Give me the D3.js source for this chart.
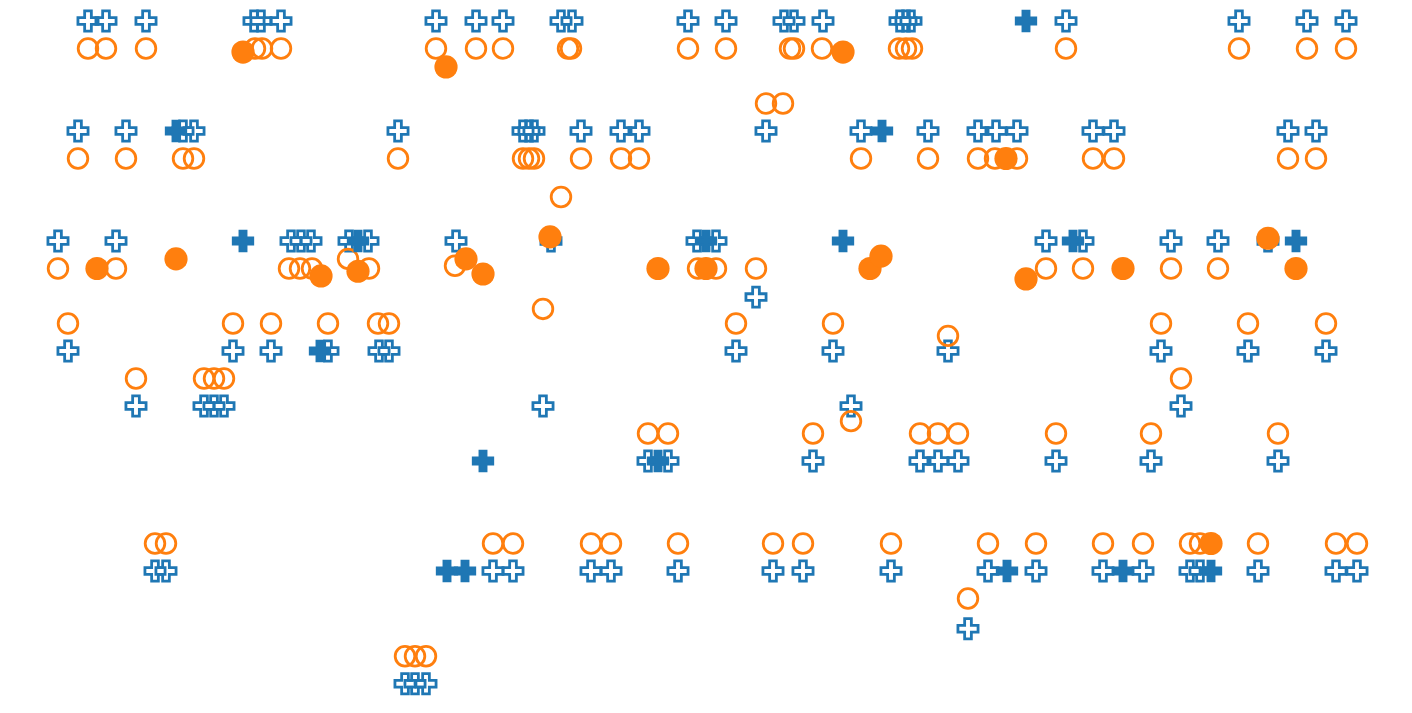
<!DOCTYPE html>
<html>
<head>
<meta charset="utf-8">
<script src="https://cdn.jsdelivr.net/npm/d3@7"></script>
<style>
  html, body { margin: 0; padding: 0; background: #fff; }
  svg { display: block; }
</style>
</head>
<body>
<svg id="chart"></svg>
<script>
// x position, vertical level
const openCrosses = [
  [88, 0], [106, 0], [146, 0], [254, 0], [261, 0], [281, 0], [436, 0], [476, 0], [503, 0],
  [561, 0], [572, 0], [688, 0], [726, 0], [784, 0], [794, 0], [823, 0], [900, 0], [906, 0],
  [911, 0], [1066, 0], [1239, 0], [1307, 0], [1346, 0],
  [78, 4], [126, 4], [183, 4], [194, 4], [398, 4], [523, 4], [529, 4], [534, 4], [581, 4],
  [621, 4], [639, 4], [766, 4], [861, 4], [928, 4], [978, 4], [996, 4], [1017, 4],
  [1093, 4], [1114, 4], [1288, 4], [1316, 4],
  [58, 8], [116, 8], [291, 8], [301, 8], [311, 8], [349, 8], [368, 8], [456, 8], [551, 8],
  [697, 8], [716, 8], [1046, 8], [1083, 8], [1171, 8], [1218, 8], [1268, 8], [756, 10.04],
  [68, 12], [233, 12], [271, 12], [328, 12], [379, 12], [389, 12], [736, 12], [833, 12],
  [948, 12], [1161, 12], [1248, 12], [1326, 12],
  [136, 14], [204, 14], [214, 14], [224, 14], [543, 14], [851, 14], [1181, 14],
  [648, 16], [668, 16], [813, 16], [920, 16], [938, 16], [958, 16], [1056, 16], [1151, 16], [1278, 16],
  [155, 20], [166, 20], [493, 20], [513, 20], [591, 20], [611, 20], [678, 20], [773, 20],
  [803, 20], [891, 20], [988, 20], [1036, 20], [1103, 20], [1143, 20], [1190, 20], [1200, 20],
  [1258, 20], [1336, 20], [1357, 20],
  [968, 22.1],
  [405, 24.1], [415, 24.1], [426, 24.1]
];

const filledCrosses = [
  [1026, 0], [176, 4], [882, 4],
  [243, 8], [358, 8], [706, 8], [843, 8], [1073, 8], [1296, 8],
  [320, 12], [483, 16], [658, 16],
  [447, 20], [465, 20], [1007, 20], [1123, 20], [1211, 20]
];

const openCircles = [
  [88, 1], [106, 1], [146, 1], [255, 1], [262, 1], [281, 1], [436, 1], [476, 1], [503, 1],
  [568, 1], [571, 1], [688, 1], [726, 1], [790, 1], [794, 1], [822, 1], [899, 1], [906, 1],
  [912, 1], [1066, 1], [1239, 1], [1307, 1], [1346, 1],
  [766, 3], [783, 3],
  [78, 5], [126, 5], [183, 5], [194, 5], [398, 5], [523, 5], [529, 5], [534, 5], [581, 5],
  [621, 5], [639, 5], [861, 5], [928, 5], [978, 5], [995, 5], [1017, 5], [1093, 5],
  [1114, 5], [1288, 5], [1316, 5],
  [561, 6.4],
  [58, 9], [116, 9], [289, 9], [300, 9], [312, 9], [369, 9], [698, 9], [716, 9], [756, 9],
  [1046, 9], [1083, 9], [1171, 9], [1218, 9], [348, 8.65], [455, 8.9], [543, 10.47],
  [68, 11], [233, 11], [271, 11], [328, 11], [378, 11], [389, 11], [736, 11], [833, 11],
  [1161, 11], [1248, 11], [1326, 11], [948, 11.45],
  [136, 13], [204, 13], [214, 13], [224, 13], [1181, 13], [851, 14.55],
  [648, 15], [668, 15], [813, 15], [920, 15], [938, 15], [958, 15], [1056, 15], [1151, 15], [1278, 15],
  [155, 19], [166, 19], [493, 19], [513, 19], [591, 19], [611, 19], [678, 19], [773, 19],
  [803, 19], [891, 19], [988, 19], [1036, 19], [1103, 19], [1143, 19], [1190, 19], [1200, 19],
  [1258, 19], [1336, 19], [1357, 19],
  [968, 21],
  [405, 23.1], [415, 23.1], [426, 23.1]
];

const filledCircles = [
  [243, 1.13], [446, 1.67], [843, 1.13],
  [1006, 5], [550, 7.85],
  [97, 9], [176, 8.65], [321, 9.27], [358, 9.1], [466, 8.65], [483, 9.2], [658, 9],
  [706, 9], [870, 9], [881, 8.55], [1026, 9.38], [1123, 9], [1268, 7.9], [1296, 9],
  [1211, 19]
];

const width = 1412;
const height = 713;
const blue = '#1f77b4';
const orange = '#ff7f0e';

const svg = d3.select('#chart').attr('width', width).attr('height', height);

const x = d3.scaleLinear().domain([0, 1412]).range([0, width]);
const y = d3.scaleLinear().domain([0, 24]).range([21, 681]);

const cross = d3.symbol().type(d3.symbolCross).size(225);

// open markers first
svg.append('g')
  .selectAll('path')
  .data(openCrosses)
  .join('path')
  .attr('d', cross)
  .attr('transform', d => `translate(${x(d[0])},${y(d[1])})`)
  .attr('fill', 'none')
  .attr('stroke', blue)
  .attr('stroke-width', 2.8);

svg.append('g')
  .selectAll('circle')
  .data(openCircles)
  .join('circle')
  .attr('cx', d => x(d[0]))
  .attr('cy', d => y(d[1]))
  .attr('r', 9.8)
  .attr('fill', 'none')
  .attr('stroke', orange)
  .attr('stroke-width', 2.8);

svg.append('g')
  .selectAll('path')
  .data(filledCrosses)
  .join('path')
  .attr('d', cross)
  .attr('transform', d => `translate(${x(d[0])},${y(d[1])})`)
  .attr('fill', blue)
  .attr('stroke', blue)
  .attr('stroke-width', 2.2);

svg.append('g')
  .selectAll('circle')
  .data(filledCircles)
  .join('circle')
  .attr('cx', d => x(d[0]))
  .attr('cy', d => y(d[1]))
  .attr('r', 11.6)
  .attr('fill', orange);
</script>
</body>
</html>
